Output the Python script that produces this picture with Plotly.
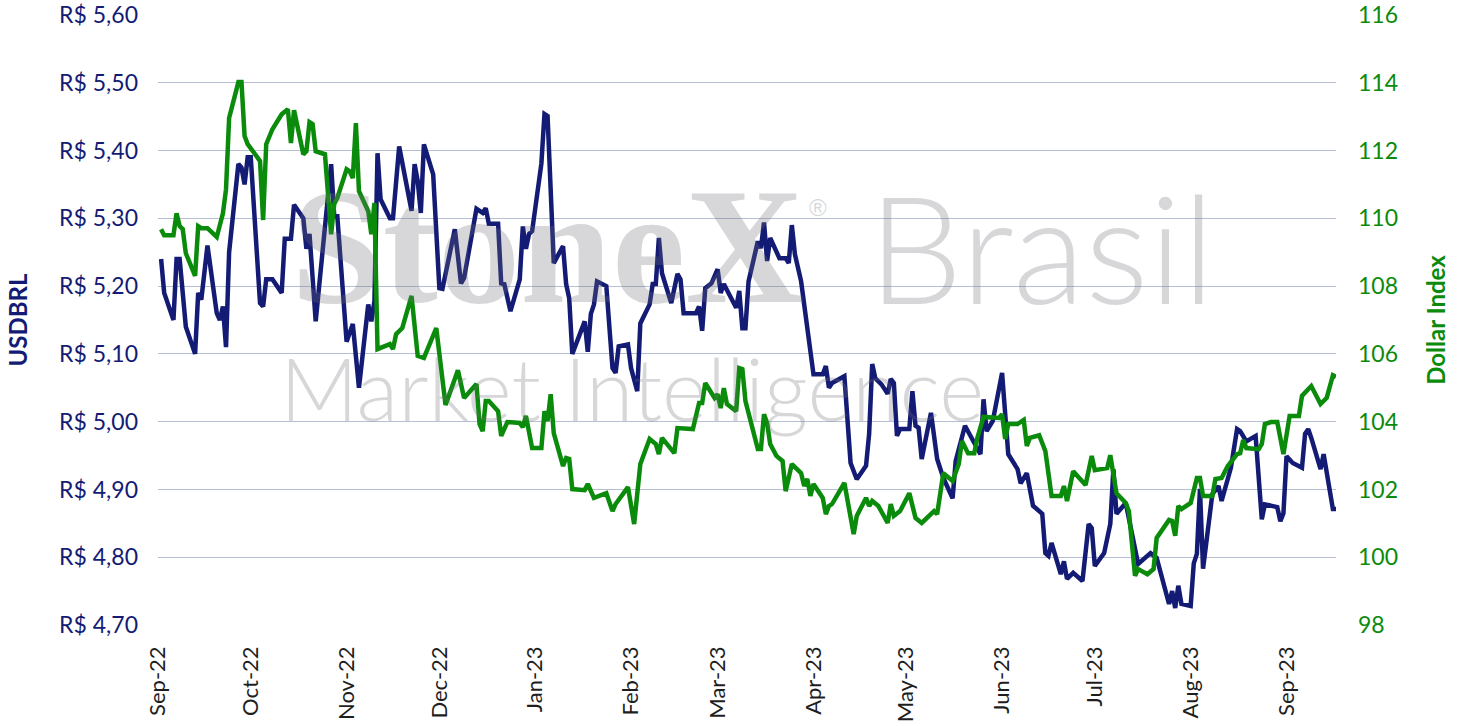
import plotly.graph_objects as go

# ---------------- data ----------------
brl_dates = [
    "2022-09-02", "2022-09-03", "2022-09-06", "2022-09-07", "2022-09-08", "2022-09-10", "2022-09-13", "2022-09-14", "2022-09-15", "2022-09-17",
    "2022-09-20", "2022-09-21", "2022-09-22", "2022-09-23", "2022-09-24", "2022-09-27", "2022-09-28", "2022-09-29", "2022-09-30", "2022-10-01",
    "2022-10-04", "2022-10-05", "2022-10-06", "2022-10-08", "2022-10-11", "2022-10-12", "2022-10-14", "2022-10-15", "2022-10-18", "2022-10-19",
    "2022-10-20", "2022-10-22", "2022-10-27", "2022-10-28", "2022-10-29", "2022-11-01", "2022-11-03", "2022-11-05", "2022-11-08", "2022-11-09",
    "2022-11-10", "2022-11-11", "2022-11-12", "2022-11-15", "2022-11-16", "2022-11-18", "2022-11-22", "2022-11-23", "2022-11-24", "2022-11-25",
    "2022-11-26", "2022-11-29", "2022-12-01", "2022-12-02", "2022-12-06", "2022-12-08", "2022-12-09", "2022-12-13", "2022-12-15", "2022-12-16",
    "2022-12-17", "2022-12-20", "2022-12-21", "2022-12-22", "2022-12-24", "2022-12-27", "2022-12-28", "2022-12-29", "2022-12-30", "2022-12-31",
    "2023-01-03", "2023-01-04", "2023-01-05", "2023-01-07", "2023-01-10", "2023-01-11", "2023-01-12", "2023-01-13", "2023-01-17", "2023-01-18",
    "2023-01-19", "2023-01-20", "2023-01-21", "2023-01-24", "2023-01-26", "2023-01-27", "2023-01-28", "2023-01-31", "2023-02-01", "2023-02-03",
    "2023-02-04", "2023-02-07", "2023-02-08", "2023-02-09", "2023-02-10", "2023-02-11", "2023-02-14", "2023-02-16", "2023-02-17", "2023-02-18",
    "2023-02-22", "2023-02-23", "2023-02-24", "2023-02-25", "2023-02-27", "2023-03-01", "2023-03-02", "2023-03-03", "2023-03-07", "2023-03-08",
    "2023-03-09", "2023-03-10", "2023-03-11", "2023-03-14", "2023-03-15", "2023-03-16", "2023-03-17", "2023-03-18", "2023-03-21", "2023-03-23",
    "2023-03-24", "2023-03-25", "2023-03-26", "2023-03-28", "2023-04-01", "2023-04-04", "2023-04-05", "2023-04-06", "2023-04-07", "2023-04-11",
    "2023-04-13", "2023-04-15", "2023-04-18", "2023-04-19", "2023-04-20", "2023-04-21", "2023-04-23", "2023-04-25", "2023-04-26", "2023-04-27",
    "2023-04-28", "2023-04-29", "2023-05-02", "2023-05-03", "2023-05-04", "2023-05-05", "2023-05-06", "2023-05-09", "2023-05-11", "2023-05-13",
    "2023-05-16", "2023-05-17", "2023-05-20", "2023-05-23", "2023-05-25", "2023-05-26", "2023-05-27", "2023-05-29", "2023-06-01", "2023-06-03",
    "2023-06-06", "2023-06-07", "2023-06-09", "2023-06-11", "2023-06-14", "2023-06-15", "2023-06-16", "2023-06-17", "2023-06-20", "2023-06-21",
    "2023-06-22", "2023-06-24", "2023-06-27", "2023-06-29", "2023-06-30", "2023-07-01", "2023-07-04", "2023-07-06", "2023-07-07", "2023-07-08",
    "2023-07-11", "2023-07-15", "2023-07-19", "2023-07-21", "2023-07-25", "2023-07-26", "2023-07-27", "2023-07-28", "2023-07-29", "2023-08-01",
    "2023-08-02", "2023-08-03", "2023-08-04", "2023-08-05", "2023-08-08", "2023-08-10", "2023-08-11", "2023-08-14", "2023-08-16", "2023-08-17",
    "2023-08-19", "2023-08-22", "2023-08-24", "2023-08-25", "2023-08-29", "2023-08-30", "2023-08-31", "2023-09-01", "2023-09-03", "2023-09-06",
    "2023-09-07", "2023-09-08", "2023-09-09", "2023-09-12", "2023-09-13", "2023-09-16", "2023-09-17",
]
brl_values = [
    5.24, 5.19, 5.15, 5.24, 5.24, 5.14, 5.10, 5.19, 5.18, 5.26,
    5.16, 5.15, 5.17, 5.11, 5.25, 5.38, 5.375, 5.35, 5.39, 5.39,
    5.175, 5.17, 5.21, 5.21, 5.19, 5.27, 5.27, 5.32, 5.30, 5.255,
    5.277, 5.148, 5.38, 5.303, 5.303, 5.118, 5.144, 5.050, 5.173, 5.148,
    5.178, 5.396, 5.328, 5.300, 5.300, 5.406, 5.311, 5.380, 5.355, 5.308,
    5.409, 5.365, 5.197, 5.196, 5.284, 5.204, 5.212, 5.314, 5.308, 5.315,
    5.292, 5.292, 5.204, 5.203, 5.163, 5.210, 5.288, 5.255, 5.277, 5.281,
    5.381, 5.454, 5.451, 5.234, 5.259, 5.203, 5.182, 5.100, 5.148, 5.103,
    5.159, 5.173, 5.207, 5.200, 5.079, 5.072, 5.111, 5.114, 5.079, 5.045,
    5.145, 5.173, 5.203, 5.203, 5.271, 5.219, 5.175, 5.218, 5.210, 5.160,
    5.160, 5.170, 5.134, 5.197, 5.204, 5.225, 5.190, 5.203, 5.168, 5.193,
    5.138, 5.138, 5.207, 5.266, 5.256, 5.294, 5.237, 5.271, 5.241, 5.241,
    5.234, 5.290, 5.247, 5.207, 5.070, 5.070, 5.082, 5.050, 5.057, 5.067,
    4.939, 4.915, 4.935, 4.982, 5.085, 5.064, 5.055, 5.041, 5.063, 5.057,
    4.979, 4.989, 4.989, 5.045, 4.994, 4.991, 4.945, 5.013, 4.945, 4.917,
    4.887, 4.942, 4.994, 4.968, 4.952, 5.033, 4.986, 5.001, 5.072, 4.952,
    4.930, 4.909, 4.924, 4.876, 4.864, 4.806, 4.802, 4.821, 4.775, 4.794,
    4.768, 4.777, 4.765, 4.849, 4.843, 4.787, 4.806, 4.849, 4.930, 4.864,
    4.880, 4.790, 4.806, 4.799, 4.731, 4.750, 4.725, 4.758, 4.731, 4.728,
    4.791, 4.805, 4.901, 4.783, 4.893, 4.905, 4.883, 4.932, 4.989, 4.986,
    4.971, 4.979, 4.856, 4.878, 4.874, 4.853, 4.865, 4.949, 4.939, 4.932,
    4.982, 4.989, 4.976, 4.930, 4.952, 4.871, 4.871,
]

dxy_dates = [
    "2022-09-02", "2022-09-03", "2022-09-06", "2022-09-07", "2022-09-08", "2022-09-09", "2022-09-10", "2022-09-13", "2022-09-14", "2022-09-15",
    "2022-09-17", "2022-09-20", "2022-09-22", "2022-09-23", "2022-09-24", "2022-09-27", "2022-09-28", "2022-09-29", "2022-09-30", "2022-10-04",
    "2022-10-05", "2022-10-06", "2022-10-08", "2022-10-11", "2022-10-13", "2022-10-14", "2022-10-15", "2022-10-18", "2022-10-19", "2022-10-20",
    "2022-10-21", "2022-10-22", "2022-10-25", "2022-10-27", "2022-10-28", "2022-10-29", "2022-11-01", "2022-11-02", "2022-11-03", "2022-11-04",
    "2022-11-05", "2022-11-08", "2022-11-09", "2022-11-10", "2022-11-11", "2022-11-15", "2022-11-16", "2022-11-17", "2022-11-19", "2022-11-22",
    "2022-11-24", "2022-11-26", "2022-11-30", "2022-12-03", "2022-12-07", "2022-12-09", "2022-12-13", "2022-12-14", "2022-12-15", "2022-12-16",
    "2022-12-17", "2022-12-20", "2022-12-21", "2022-12-23", "2022-12-27", "2022-12-28", "2022-12-29", "2022-12-31", "2023-01-03", "2023-01-04",
    "2023-01-05", "2023-01-06", "2023-01-07", "2023-01-10", "2023-01-11", "2023-01-12", "2023-01-13", "2023-01-17", "2023-01-18", "2023-01-20",
    "2023-01-24", "2023-01-26", "2023-01-27", "2023-01-31", "2023-02-02", "2023-02-04", "2023-02-07", "2023-02-09", "2023-02-10", "2023-02-11",
    "2023-02-15", "2023-02-16", "2023-02-21", "2023-02-23", "2023-02-24", "2023-02-25", "2023-02-28", "2023-03-01", "2023-03-02", "2023-03-03",
    "2023-03-04", "2023-03-07", "2023-03-08", "2023-03-09", "2023-03-10", "2023-03-14", "2023-03-15", "2023-03-16", "2023-03-17", "2023-03-18",
    "2023-03-20", "2023-03-22", "2023-03-23", "2023-03-25", "2023-03-28", "2023-03-29", "2023-03-30", "2023-03-31", "2023-04-01", "2023-04-04",
    "2023-04-05", "2023-04-06", "2023-04-07", "2023-04-11", "2023-04-14", "2023-04-15", "2023-04-18", "2023-04-19", "2023-04-20", "2023-04-22",
    "2023-04-25", "2023-04-26", "2023-04-27", "2023-04-29", "2023-05-02", "2023-05-04", "2023-05-06", "2023-05-10", "2023-05-11", "2023-05-13",
    "2023-05-16", "2023-05-18", "2023-05-19", "2023-05-21", "2023-05-23", "2023-05-24", "2023-05-26", "2023-05-31", "2023-06-01", "2023-06-02",
    "2023-06-03", "2023-06-06", "2023-06-08", "2023-06-09", "2023-06-10", "2023-06-13", "2023-06-15", "2023-06-17", "2023-06-20", "2023-06-21",
    "2023-06-22", "2023-06-24", "2023-06-28", "2023-06-30", "2023-07-01", "2023-07-05", "2023-07-06", "2023-07-08", "2023-07-11", "2023-07-12",
    "2023-07-14", "2023-07-15", "2023-07-18", "2023-07-20", "2023-07-21", "2023-07-23", "2023-07-25", "2023-07-26", "2023-07-27", "2023-07-28",
    "2023-07-29", "2023-08-01", "2023-08-03", "2023-08-04", "2023-08-05", "2023-08-08", "2023-08-09", "2023-08-11", "2023-08-13", "2023-08-16",
    "2023-08-17", "2023-08-18", "2023-08-19", "2023-08-23", "2023-08-24", "2023-08-25", "2023-08-27", "2023-08-29", "2023-08-31", "2023-09-02",
    "2023-09-05", "2023-09-06", "2023-09-09", "2023-09-12", "2023-09-14", "2023-09-16", "2023-09-17",
]
dxy_values = [
    109.68, 109.50, 109.50, 110.15, 109.77, 109.68, 108.97, 108.30, 109.77, 109.71,
    109.71, 109.45, 110.15, 110.86, 112.96, 114.02, 114.02, 112.43, 112.19, 111.69,
    109.95, 112.19, 112.63, 113.07, 113.22, 112.22, 113.19, 111.89, 111.98, 112.84,
    112.78, 111.98, 111.89, 109.53, 110.42, 110.60, 111.45, 111.39, 111.19, 112.81,
    110.80, 110.21, 109.53, 110.45, 106.14, 106.29, 106.14, 106.58, 106.76, 107.71,
    105.94, 105.88, 106.76, 104.49, 105.52, 104.70, 105.11, 103.93, 103.72, 104.61,
    104.61, 104.31, 103.58, 103.99, 103.96, 103.84, 104.17, 103.22, 103.22, 104.31,
    104.02, 104.81, 103.66, 102.69, 102.93, 102.90, 102.01, 101.98, 102.16, 101.75,
    101.89, 101.36, 101.57, 102.07, 100.98, 102.75, 103.49, 103.34, 103.04, 103.52,
    103.07, 103.81, 103.78, 104.55, 104.55, 105.14, 104.70, 104.81, 104.40, 104.99,
    104.52, 104.31, 105.58, 105.55, 104.61, 103.19, 103.19, 104.22, 103.96, 103.34,
    102.99, 102.84, 101.95, 102.75, 102.48, 102.10, 102.31, 101.81, 102.16, 101.75,
    101.27, 101.51, 101.57, 102.19, 100.68, 101.22, 101.75, 101.51, 101.66, 101.51,
    101.01, 101.57, 101.22, 101.36, 101.89, 101.16, 101.01, 101.36, 101.27, 102.48,
    102.25, 102.75, 103.43, 103.07, 103.07, 103.52, 104.14, 104.11, 104.22, 103.49,
    103.93, 103.93, 104.05, 103.28, 103.52, 103.60, 103.13, 101.81, 101.81, 102.10,
    101.66, 102.54, 102.13, 102.99, 102.57, 102.63, 103.01, 101.89, 101.60, 101.36,
    99.45, 99.65, 99.50, 99.65, 100.57, 100.83, 101.10, 101.07, 100.63, 101.51,
    101.42, 101.60, 102.34, 102.34, 101.81, 101.81, 102.31, 102.34, 102.69, 103.04,
    103.07, 103.46, 103.22, 103.19, 103.34, 103.93, 103.99, 103.99, 103.04, 104.17,
    104.17, 104.76, 105.05, 104.52, 104.70, 105.37, 105.32,
]

x_range = ["2022-09-01", "2023-09-17"]
brl_range = [4.70, 5.60]
dxy_range = [98, 116]

NAVY = "#131b74"
GREEN = "#0b8b0b"
GRID = "#b6c0d4"
FONT = "Lato"
FS = 23

fig = go.Figure()
fig.add_trace(go.Scatter(x=brl_dates, y=brl_values, mode="lines", name="USDBRL",
                         line=dict(color=NAVY, width=4.5), yaxis="y"))
fig.add_trace(go.Scatter(x=dxy_dates, y=dxy_values, mode="lines", name="Dollar Index",
                         line=dict(color=GREEN, width=4.5), yaxis="y2"))

wm = "rgba(110,112,118,0.28)"
annotations = [
    dict(text="<b>StoneX</b>", xref="paper", yref="paper", x=0.331, y=0.621, xanchor="center", yanchor="middle",
         showarrow=False, font=dict(family="Liberation Serif", size=165, color=wm)),
    dict(text="®", xref="paper", yref="paper", x=0.560, y=0.684, xanchor="center", yanchor="middle",
         showarrow=False, font=dict(family="Liberation Sans", size=24, color=wm)),
    dict(text="Brasil", xref="paper", yref="paper", x=0.750, y=0.621, xanchor="center", yanchor="middle",
         showarrow=False, font=dict(family=FONT, size=150, color=wm, weight=300)),
    dict(text="Market Intelligence", xref="paper", yref="paper", x=0.402, y=0.390, xanchor="center", yanchor="middle",
         showarrow=False, font=dict(family=FONT, size=86, color=wm, weight=300)),
]

fig.update_layout(
    template="none",
    width=1464, height=726,
    margin=dict(l=158, r=128, t=15, b=101, pad=0),
    paper_bgcolor="white", plot_bgcolor="white",
    showlegend=False,
    separators=",.",
    font=dict(family=FONT, size=FS, color="#222222"),
    annotations=annotations,
    xaxis=dict(type="date", range=x_range, tick0="2022-09-01", dtick="M1", tickformat="%b-%y",
               tickangle=-90, showgrid=False, zeroline=False, showline=False, ticks="",
               automargin=False, ticklabelstandoff=16, ticklabeloverflow="allow",
               tickfont=dict(family=FONT, size=22, color="#1e1e1e")),
    yaxis=dict(range=brl_range, dtick=0.1, tick0=4.7, tickformat=".2f", tickprefix="R$ ",
               showgrid=True, gridcolor=GRID, gridwidth=1, zeroline=False, showline=False, ticks="",
               automargin=False, ticklabelstandoff=19, ticklabeloverflow="allow",
               tickfont=dict(family=FONT, size=FS, color=NAVY),
               title=dict(text="<b>USDBRL</b>", font=dict(family=FONT, size=24, color=NAVY), standoff=24)),
    yaxis2=dict(range=dxy_range, dtick=2, tick0=98, overlaying="y", side="right",
                showgrid=False, zeroline=False, showline=False, ticks="",
                automargin=False, ticklabelstandoff=21, ticklabeloverflow="allow",
                tickfont=dict(family=FONT, size=FS, color=GREEN),
                title=dict(text="<b>Dollar Index</b>", font=dict(family=FONT, size=24, color=GREEN), standoff=31)),
)

fig.write_html("out.html",
               config={"displayModeBar": False, "staticPlot": True},
               post_script="document.body.style.margin='0';document.body.style.overflow='hidden';")
